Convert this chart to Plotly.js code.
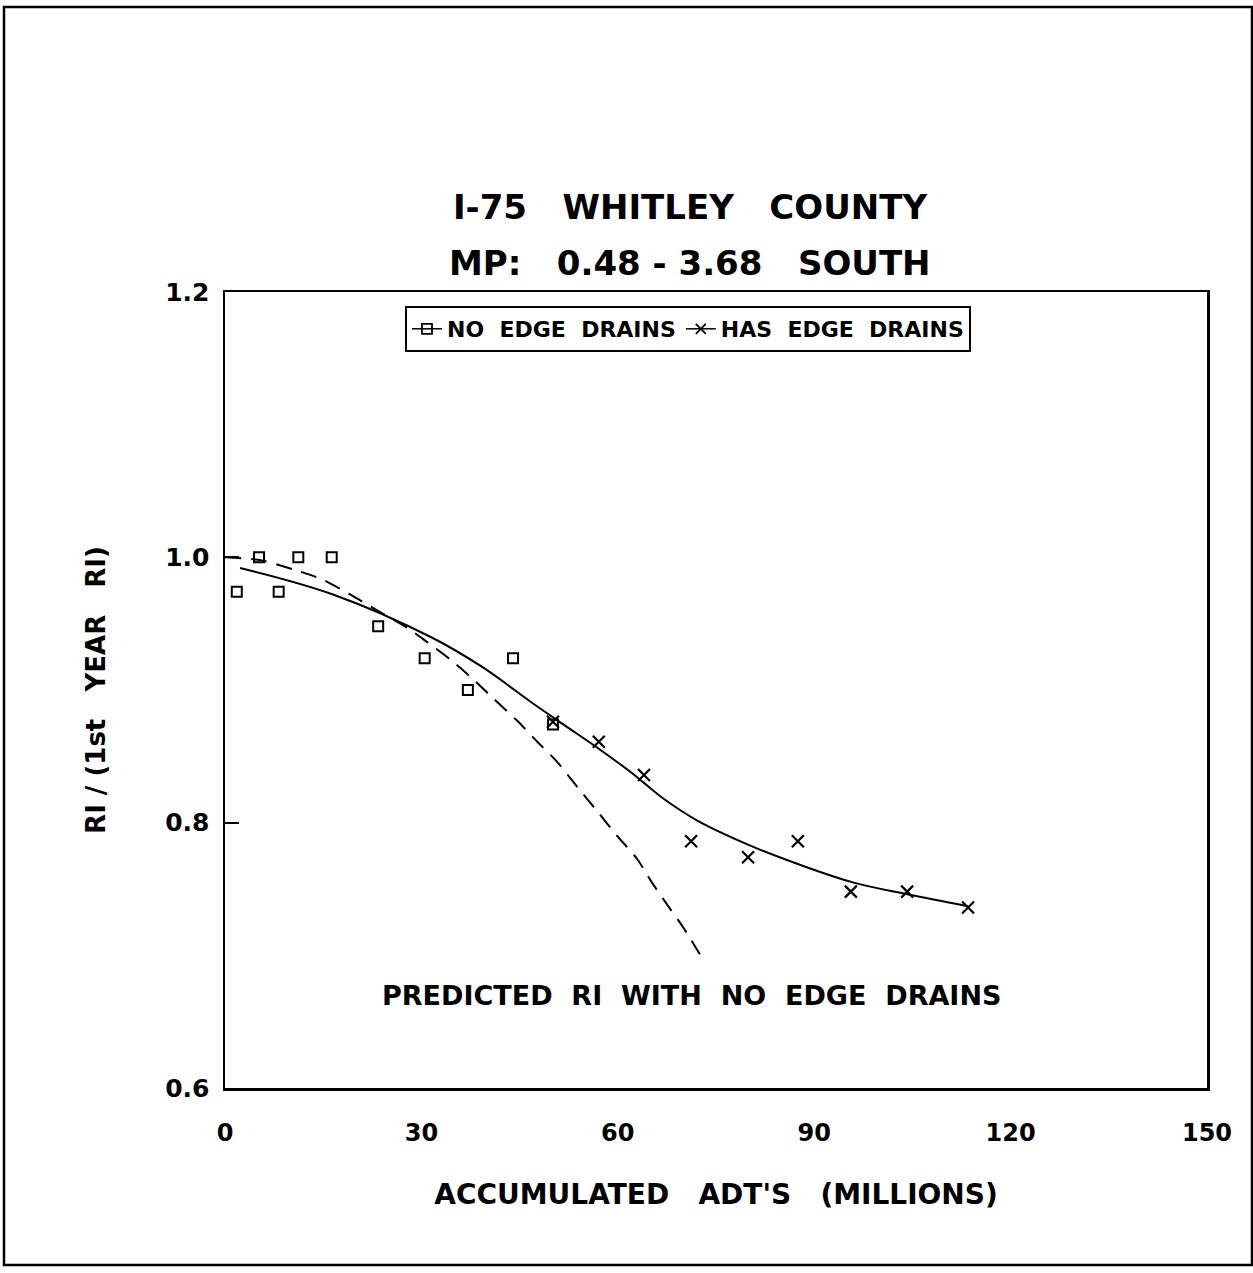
<!DOCTYPE html>
<html>
<head>
<meta charset="utf-8">
<script src="https://cdn.plot.ly/plotly-3.0.1.min.js"></script>
<style>html,body{margin:0;padding:0;background:#fff;}#chart{width:1253px;height:1273px;}</style>
</head>
<body>
<div id="chart"></div>
<script>
// Observed points
const noDrainX = [1.8, 5.2, 8.2, 11.2, 16.3, 23.4, 30.5, 37.1, 44.0, 50.1];
const noDrainY = [0.974, 1.0, 0.974, 1.0, 1.0, 0.948, 0.924, 0.900, 0.924, 0.874];
const drainX = [50.1, 57.1, 64.0, 71.2, 79.9, 87.5, 95.6, 104.2, 113.5];
const drainY = [0.876, 0.861, 0.836, 0.786, 0.774, 0.786, 0.748, 0.748, 0.736];
// Fitted curve (solid)
const fitX = [2.3, 16.5, 31.8, 39.4, 47.0, 52.0, 57.3, 62.0, 64.0, 67.0, 72.0, 80.6, 87.4, 95.9, 104.2, 113.5];
const fitY = [0.992, 0.972, 0.939, 0.917, 0.890, 0.873, 0.855, 0.838, 0.830, 0.818, 0.802, 0.782, 0.769, 0.755, 0.746, 0.737];
// Predicted RI with no edge drains (dashed)
const predX = [0, 5.3, 11.0, 15.0, 19.1, 22.9, 27.8, 30.9, 34.4, 37.7, 40.9, 44.6, 47.7, 50.7, 53.8, 56.8, 59.9, 62.9, 65.2, 68.0, 70.0, 73.0];
const predY = [1.0, 0.998, 0.990, 0.983, 0.972, 0.961, 0.947, 0.936, 0.923, 0.909, 0.894, 0.877, 0.861, 0.846, 0.827, 0.809, 0.790, 0.773, 0.755, 0.735, 0.721, 0.697];
// Labels
const S2 = "\u00a0\u00a0", S3 = "\u00a0\u00a0\u00a0";
const titleLine1 = "I-75" + S3 + "WHITLEY" + S3 + "COUNTY";
const titleLine2 = "MP:" + S3 + "0.48\u00a0-\u00a03.68" + S3 + "SOUTH";
const xTitle = "ACCUMULATED" + S3 + "ADT'S" + S3 + "(MILLIONS)";
const yTitle = "RI\u00a0/\u00a0(1st" + S3 + "YEAR" + S3 + "RI)";
const noteText = "PREDICTED" + S2 + "RI" + S2 + "WITH" + S2 + "NO" + S2 + "EDGE" + S2 + "DRAINS";
const legendNames = ["NO" + S2 + "EDGE" + S2 + "DRAINS", "HAS" + S2 + "EDGE" + S2 + "DRAINS"];
const xTicks = [0, 30, 60, 90, 120, 150];
const yTicks = [0.6, 0.8, 1.0, 1.2];

const FONT = "DejaVu Sans, Verdana, sans-serif";

const traces = [
  {x: predX, y: predY, mode: "lines", line: {color: "#000", width: 2, dash: "16px,10px", shape: "spline", smoothing: 0.8}, showlegend: false, hoverinfo: "skip"},
  {x: fitX, y: fitY, mode: "lines", line: {color: "#000", width: 2, shape: "spline", smoothing: 1}, showlegend: false, hoverinfo: "skip"},
  {x: noDrainX, y: noDrainY, mode: "markers", marker: {symbol: "square-open", size: 10, color: "#000", line: {width: 2, color: "#000"}}, showlegend: false},
  {x: drainX, y: drainY, mode: "markers", marker: {symbol: "x-thin-open", size: 12, color: "#000", line: {width: 2.2, color: "#000"}}, showlegend: false},
  // legend entries
  {x: [null], y: [null], name: legendNames[0], mode: "lines+markers", line: {color: "#000", width: 1.5}, marker: {symbol: "square-open", size: 10, color: "#000", line: {width: 1.8, color: "#000"}}},
  {x: [null], y: [null], name: legendNames[1], mode: "lines+markers", line: {color: "#000", width: 1.5}, marker: {symbol: "x-thin-open", size: 10, color: "#000", line: {width: 1.8, color: "#000"}}}
];

const L = 225, R = 1207, T = 292, B = 1088, W = 1253, H = 1273;
const pw = R - L, ph = B - T;
const px = v => (v - L) / pw;
const py = v => (B - v) / ph;

const layout = {
  width: W, height: H,
  margin: {l: L, r: W - R, t: T, b: H - B, pad: 0},
  paper_bgcolor: "#fff", plot_bgcolor: "#fff",
  font: {family: FONT, color: "#000", weight: "bold"},
  title: {text: titleLine1, font: {family: FONT, size: 34, weight: "bold", color: "#000"}, x: 690 / W, xanchor: "center", xref: "container", y: 1 - 207 / H, yanchor: "middle", yref: "container"},
  xaxis: {
    range: [0, 150], tickvals: xTicks, ticktext: xTicks.map(String), ticks: "", showgrid: false, zeroline: false,
    showline: true, linecolor: "#000", linewidth: 2.5, mirror: true,
    tickfont: {family: FONT, size: 24, weight: "bold"}, ticklabelstandoff: 22,
    title: {text: xTitle, font: {family: FONT, size: 28, weight: "bold"}, standoff: 38}
  },
  yaxis: {
    range: [0.6, 1.2], tickvals: yTicks, ticktext: yTicks.map(v => v.toFixed(1)), ticks: "inside", ticklen: 14, tickwidth: 2, tickcolor: "#000",
    showgrid: false, zeroline: false, showline: true, linecolor: "#000", linewidth: 2.5, mirror: true,
    tickfont: {family: FONT, size: 25, weight: "bold"}, ticklabelstandoff: 8,
    title: {text: yTitle, font: {family: FONT, size: 26, weight: "bold"}, standoff: 52}
  },
  legend: {
    orientation: "h", x: px(405), y: py(306), xanchor: "left", yanchor: "top",
    bgcolor: "#fff", bordercolor: "#000", borderwidth: 2,
    font: {family: FONT, size: 22, weight: "bold", color: "#000"},
    itemwidth: 30, tracegroupgap: 0
  },
  annotations: [
    {text: titleLine2, xref: "paper", yref: "paper", x: px(690), y: py(263), xanchor: "center", yanchor: "middle", showarrow: false, font: {family: FONT, size: 34, weight: "bold", color: "#000"}},
    {text: noteText, xref: "x", yref: "y", x: 71.2, y: 0.670, xanchor: "center", yanchor: "middle", showarrow: false, font: {family: FONT, size: 27, weight: "bold", color: "#000"}}
  ],
  shapes: [
    {type: "rect", xref: "paper", yref: "paper", x0: px(4), x1: px(1252), y0: py(1265), y1: py(7), line: {color: "#000", width: 2.5}, fillcolor: "rgba(0,0,0,0)", layer: "below"}
  ],
  showlegend: true
};

Plotly.newPlot("chart", traces, layout, {displayModeBar: false, staticPlot: true});
</script>
</body>
</html>
